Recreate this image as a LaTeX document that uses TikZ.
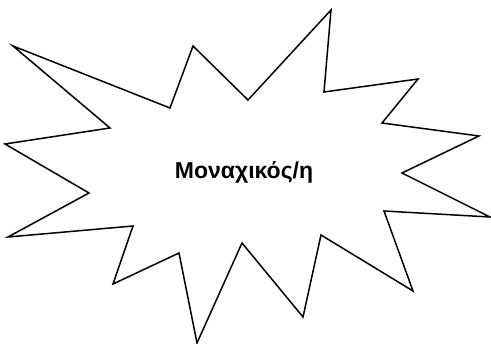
\documentclass[tikz,border=0pt]{standalone}
\usepackage{fontspec}
\setmainfont{Liberation Sans}
\begin{document}
\begin{tikzpicture}[x=1pt,y=-1pt,
  burst/.style={draw=black,line width=1.5pt,line join=miter,fill=white},
  label/.style={font=\bfseries\fontsize{23}{27}\selectfont,inner sep=0pt}]
\useasboundingbox (0,0) rectangle (491,344);
\draw[burst] (13,46) -- (170,108) -- (193,46) -- (248,100) -- (331,10) -- (324,92)
  -- (418,79) -- (382,123) -- (479,136) -- (402,173) -- (490,217) -- (384,211)
  -- (413,291) -- (321,235) -- (303,317) -- (242,243) -- (197,343) -- (179,253)
  -- (113,284) -- (133,226) -- (8,237) -- (89,193) -- (5,144) -- (110,128) -- cycle;
\node[label,anchor=base] (t) at (244,179) {Μοναχικός/η};
\end{tikzpicture}
\end{document}
